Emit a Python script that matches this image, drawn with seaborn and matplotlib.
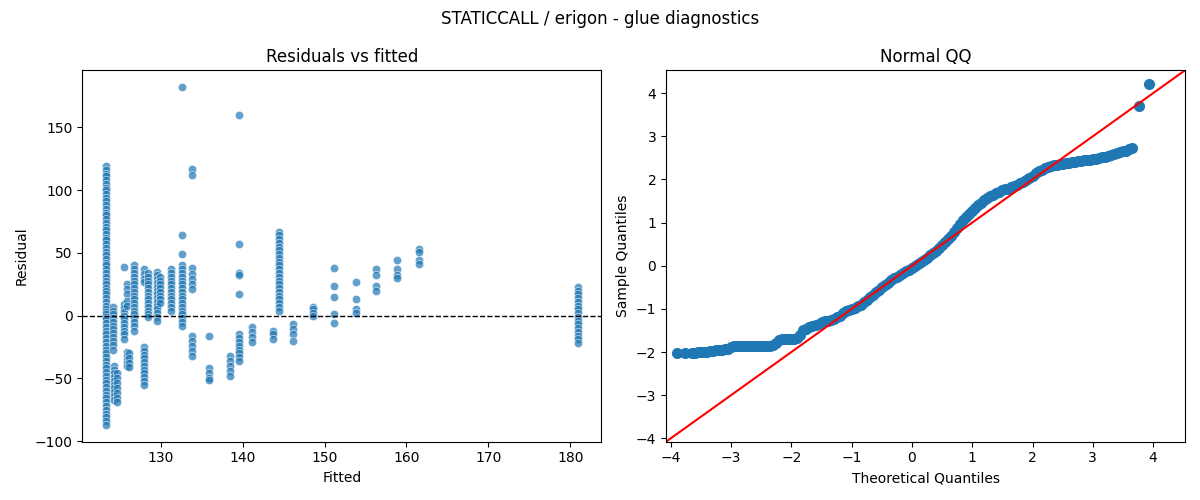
import matplotlib.pyplot as plt
import pandas as pd
import seaborn as sns

fitted = [123.3, 124.2, 124.3, 124.6, 125.5, 125.9, 126.1, 126.7, 127.9, 128.4,
          129.6, 129.9, 131.2, 132.6, 133.8, 135.9, 138.5, 139.6, 141.1, 143.7,
          144.4, 146.2, 148.6, 151.2, 153.8, 156.3, 158.9, 161.5, 180.9]
residuals = [
    [119, 116, 113, 111, 108, 105, 102, 100, 97, 94, 91, 88, 85, 82, 80, 77, 74,
     71, 68, 65, 62, 60, 57, 54, 51, 48, 45, 42, 40, 37, 34, 31, 28, 25, 22, 20,
     17, 14, 11, 8, 5, 3, 1, -1, -3, -6, -9, -12, -15, -18, -21, -24, -27, -30,
     -33, -36, -39, -42, -45, -48, -51, -54, -57, -60, -63, -66, -69, -72, -75,
     -78, -81, -84, -87],
    [7, 4, 1, -2, -5, -8, -11, -14, -17, -20, -23, -27],
    [-40, -43, -46, -49, -52, -55, -58, -61, -64, -67],
    [-46, -50, -54, -58, -62, -66, -69],
    [39, 9, 6, 3, 0, -3, -6, -9, -12, -15, -19],
    [25, 21, 17, 12, 8, -29, -32, -35, -38, -40],
    [-30, -34, -38, -41],
    [40, 37, 34, 31, 28, 25, 22, 19, 16, 13, 10, 7, 4, 1, -2, -5, -8, -12],
    [37, 33, 29, 27, -25, -28, -31, -34, -37, -40, -43, -46, -49, -52, -55],
    [34, 31, 28, 25, 22, 19, 16, 13, 10, 7, 4, 1, -1],
    [35, 32, 29, 26, 23, 20, 17, 14, 11, 8, 5, 2, -1, -4],
    [31, 28, 25, 22, 19, 16, 13, 10],
    [37, 34, 31, 28, 25, 22, 19, 16, 13, 10, 7, 4],
    [182, 64, 49, 40, 37, 34, 31, 28, 25, 22, 19, 16, 13, 10, 7, 4, 1, -2, -5, -8],
    [117, 112, 38, 33, 29, 25, 21, -16, -20, -24, -28, -32],
    [-16, -42, -46, -50, -51],
    [-32, -36, -40, -44, -48],
    [160, 57, 34, 32, 17, -15, -18, -21, -24, -27, -30, -33, -36],
    [-9, -13, -17, -21],
    [-12, -15, -19],
    [67, 64, 61, 58, 55, 52, 49, 46, 43, 40, 37, 34, 31, 28, 25, 22, 19, 16, 13,
     10, 7, 4],
    [-7, -11, -15, -20],
    [7, 5, 2, 0],
    [38, 24, 15, 1, -6],
    [27, 13.5, 5, 2],
    [37, 32, 24, 20],
    [44, 37.5, 32, 30],
    [53, 51, 44, 41],
    [23, 20, 17, 14, 11, 8, 5, 2, -1, -4, -7, -10, -13, -16, -19, -22],
]

# normal QQ points (theoretical quantile, sample quantile)
qq_theoretical = [
    -3.90, -3.77, -3.65, -3.60, -3.55, -3.50, -3.45, -3.40, -3.35, -3.30, -3.25,
    -3.20, -3.15, -3.10, -3.05, -3.00, -2.95, -2.90, -2.85, -2.80, -2.75, -2.70,
    -2.65, -2.60, -2.55, -2.50, -2.45, -2.40, -2.35, -2.30, -2.25, -2.20, -2.15,
    -2.10, -2.05, -2.00, -1.95, -1.90, -1.85, -1.80, -1.75, -1.70, -1.65, -1.60,
    -1.55, -1.50, -1.45, -1.40, -1.35, -1.30, -1.25, -1.20, -1.15, -1.10, -1.05,
    -1.00, -0.95, -0.90, -0.85, -0.80, -0.75, -0.70, -0.65, -0.60, -0.55, -0.50,
    -0.45, -0.40, -0.35, -0.30, -0.25, -0.20, -0.15, -0.10, -0.05, 0.00, 0.05,
    0.10, 0.15, 0.20, 0.25, 0.30, 0.35, 0.40, 0.45, 0.50, 0.55, 0.60, 0.65, 0.70,
    0.75, 0.80, 0.85, 0.90, 0.95, 1.00, 1.05, 1.10, 1.15, 1.20, 1.25, 1.30, 1.35,
    1.40, 1.45, 1.50, 1.55, 1.60, 1.65, 1.70, 1.75, 1.80, 1.85, 1.90, 1.95, 2.00,
    2.05, 2.10, 2.15, 2.20, 2.25, 2.30, 2.35, 2.40, 2.45, 2.50, 2.55, 2.60, 2.65,
    2.70, 2.75, 2.80, 2.85, 2.90, 2.95, 3.00, 3.05, 3.10, 3.15, 3.20, 3.25, 3.30,
    3.35, 3.40, 3.45, 3.50, 3.55, 3.60, 3.65, 3.76, 3.94]
qq_sample = [
    -2.02, -2.02, -2.02, -2.02, -2.01, -2.01, -2.00, -1.99, -1.98, -1.97, -1.96,
    -1.95, -1.95, -1.94, -1.92, -1.89, -1.87, -1.87, -1.87, -1.87, -1.87, -1.87,
    -1.87, -1.86, -1.86, -1.86, -1.86, -1.86, -1.85, -1.84, -1.78, -1.72, -1.70,
    -1.70, -1.70, -1.69, -1.69, -1.68, -1.60, -1.50, -1.46, -1.43, -1.40, -1.37,
    -1.34, -1.31, -1.29, -1.27, -1.25, -1.23, -1.20, -1.16, -1.10, -1.06, -1.03,
    -1.01, -0.98, -0.94, -0.90, -0.85, -0.79, -0.73, -0.67, -0.61, -0.56, -0.50,
    -0.45, -0.39, -0.33, -0.29, -0.25, -0.21, -0.17, -0.13, -0.09, -0.05, -0.01,
    0.04, 0.08, 0.13, 0.18, 0.24, 0.29, 0.35, 0.42, 0.49, 0.56, 0.63, 0.70, 0.78,
    0.87, 0.96, 1.05, 1.13, 1.21, 1.28, 1.34, 1.40, 1.46, 1.52, 1.57, 1.61, 1.65,
    1.69, 1.72, 1.75, 1.77, 1.79, 1.82, 1.85, 1.88, 1.91, 1.95, 1.99, 2.04, 2.09,
    2.14, 2.19, 2.23, 2.26, 2.29, 2.31, 2.33, 2.34, 2.35, 2.37, 2.38, 2.39, 2.40,
    2.41, 2.42, 2.43, 2.44, 2.45, 2.46, 2.47, 2.48, 2.49, 2.51, 2.53, 2.55, 2.57,
    2.59, 2.61, 2.63, 2.65, 2.67, 2.70, 2.74, 3.71, 4.21]

rows = []
for f, col in zip(fitted, residuals):
    for r in col:
        rows.append({'Fitted': f, 'Residual': r})
df_resid = pd.DataFrame(rows)
df_qq = pd.DataFrame({'theoretical': qq_theoretical, 'sample': qq_sample})

fig, axes = plt.subplots(1, 2, figsize=(12, 5), dpi=100)

# Residuals vs fitted
ax = axes[0]
sns.scatterplot(x='Fitted', y='Residual', data=df_resid, alpha=0.7, ax=ax)
ax.axhline(0, color='black', linestyle='--', linewidth=1)
ax.set_title('Residuals vs fitted')

# Normal QQ
ax = axes[1]
sns.scatterplot(x='theoretical', y='sample', data=df_qq, s=64, linewidth=0,
                color='#1f77b4', ax=ax)
ax.axline((0, 0), slope=1, color='red')
ax.set_xlim(-4.08, 4.53)
ax.set_ylim(-4.08, 4.53)
ax.set_xlabel('Theoretical Quantiles')
ax.set_ylabel('Sample Quantiles')
ax.set_title('Normal QQ')

fig.suptitle('STATICCALL / erigon - glue diagnostics')
fig.tight_layout()
fig.savefig('out.png')
